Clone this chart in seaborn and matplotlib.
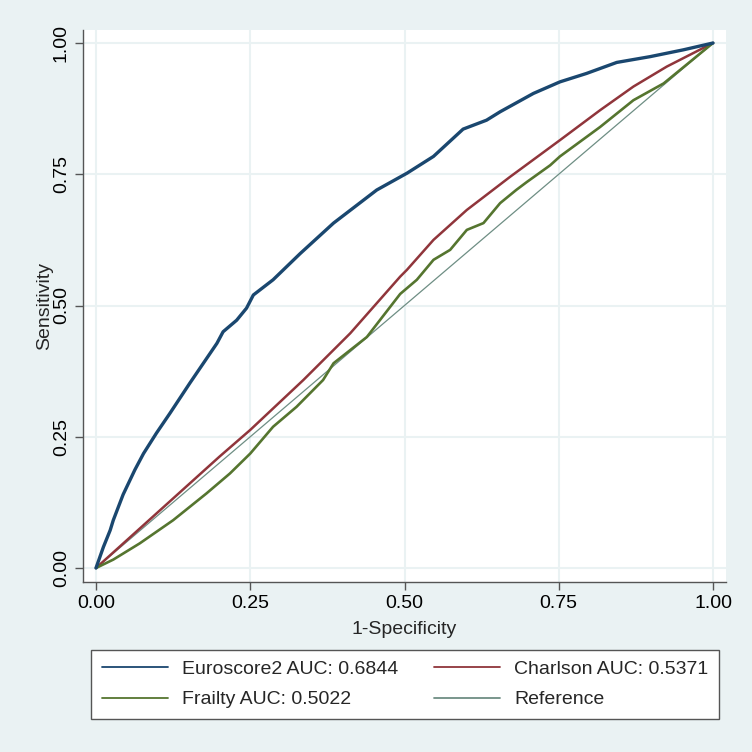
import pandas as pd
import matplotlib
matplotlib.use('Agg')
import matplotlib.pyplot as plt
import seaborn as sbn

# ROC curve points
euro_x = [0, 0.012, 0.023, 0.028, 0.044, 0.063, 0.077, 0.098, 0.12, 0.152, 0.174,
          0.196, 0.206, 0.228, 0.244, 0.255, 0.287, 0.331, 0.385, 0.455, 0.504,
          0.547, 0.595, 0.633, 0.655, 0.709, 0.752, 0.795, 0.844, 0.898, 0.952, 1]
euro_y = [0, 0.04, 0.072, 0.091, 0.14, 0.187, 0.218, 0.257, 0.295, 0.352, 0.39,
          0.428, 0.45, 0.472, 0.495, 0.52, 0.549, 0.599, 0.657, 0.72, 0.752,
          0.784, 0.836, 0.853, 0.869, 0.904, 0.926, 0.942, 0.963, 0.974, 0.987, 1]

charl_x = [0, 0.1, 0.2, 0.25, 0.336, 0.412, 0.493, 0.504, 0.547, 0.601, 0.671,
           0.752, 0.817, 0.871, 0.925, 1]
charl_y = [0, 0.106, 0.212, 0.263, 0.358, 0.447, 0.555, 0.568, 0.625, 0.682, 0.745,
           0.815, 0.872, 0.917, 0.955, 1]

frail_x = [0, 0.028, 0.071, 0.125, 0.179, 0.217, 0.25, 0.287, 0.325, 0.368, 0.385,
           0.439, 0.493, 0.52, 0.547, 0.574, 0.601, 0.628, 0.655, 0.681, 0.698,
           0.736, 0.752, 0.817, 0.871, 0.92, 1]
frail_y = [0, 0.016, 0.047, 0.091, 0.142, 0.18, 0.218, 0.269, 0.307, 0.358, 0.39,
           0.44, 0.522, 0.549, 0.587, 0.606, 0.644, 0.657, 0.695, 0.72, 0.735,
           0.767, 0.784, 0.84, 0.891, 0.923, 1]

ref_x = [0, 1]
ref_y = [0, 1]

labels = ['Euroscore2 AUC: 0.6844', 'Charlson AUC: 0.5371', 'Frailty AUC: 0.5022', 'Reference']
ticks = [0, 0.25, 0.5, 0.75, 1.0]
tick_labels = ['0.00', '0.25', '0.50', '0.75', '1.00']

bg = '#eaf2f3'
sbn.set_style('white')
plt.rcParams['font.family'] = ['Liberation Sans', 'DejaVu Sans']

fig = plt.figure(figsize=(7.52, 7.52), dpi=100, facecolor=bg)
ax = fig.add_axes([83/752, 1-582/752, (726-83)/752, (582-30)/752])
ax.set_facecolor('white')

sbn.lineplot(x=euro_x, y=euro_y, ax=ax, color='#1a476f', lw=2.4, label=labels[0],
             sort=False, estimator=None, zorder=5)
sbn.lineplot(x=charl_x, y=charl_y, ax=ax, color='#90353b', lw=1.8, label=labels[1],
             sort=False, estimator=None, zorder=4)
sbn.lineplot(x=frail_x, y=frail_y, ax=ax, color='#55752f', lw=1.9, label=labels[2],
             sort=False, estimator=None, zorder=4)
sbn.lineplot(x=ref_x, y=ref_y, ax=ax, color='#6e8e84', lw=0.9, label=labels[3],
             sort=False, estimator=None, zorder=3)

ax.set_xlim(-13/617, 1+13/617)
ax.set_ylim(-14/525, 1+13/525)
ax.set_xticks(ticks)
ax.set_xticklabels(tick_labels)
ax.set_yticks(ticks)
ax.set_yticklabels(tick_labels, rotation=90, va='center')
ax.grid(True, color=bg, lw=1.5, zorder=0)
ax.set_axisbelow(True)

for s in ['top', 'right']:
    ax.spines[s].set_visible(False)
for s in ['left', 'bottom']:
    ax.spines[s].set_color('#555555')
    ax.spines[s].set_linewidth(1.0)
ax.tick_params(direction='out', length=5.5, width=1.0, color='#555555',
               labelsize=14, labelcolor='black', bottom=True, left=True)
ax.tick_params(axis='x', pad=4)
ax.tick_params(axis='y', pad=4)

ax.set_xlabel('1-Specificity', fontsize=14, labelpad=6)
ax.set_ylabel('Sensitivity', fontsize=14, labelpad=0)

# legend is filled row by row in the reference
h, l = ax.get_legend_handles_labels()
ax.get_legend().remove()
order = [0, 2, 1, 3]
leg = fig.legend([h[i] for i in order], [l[i] for i in order], ncol=2,
                 loc='lower left', bbox_to_anchor=(91/752, 1-719/752),
                 fontsize=14, frameon=True, fancybox=False, framealpha=1,
                 edgecolor='#555555', handlelength=3.4, handletextpad=0.75,
                 columnspacing=1.8, labelspacing=0.65, borderpad=0.55,
                 borderaxespad=0)
leg.get_frame().set_linewidth(1.0)
for line in leg.get_lines():
    line.set_linewidth(1.3)

plt.savefig('out.png', dpi=100, facecolor=bg)
